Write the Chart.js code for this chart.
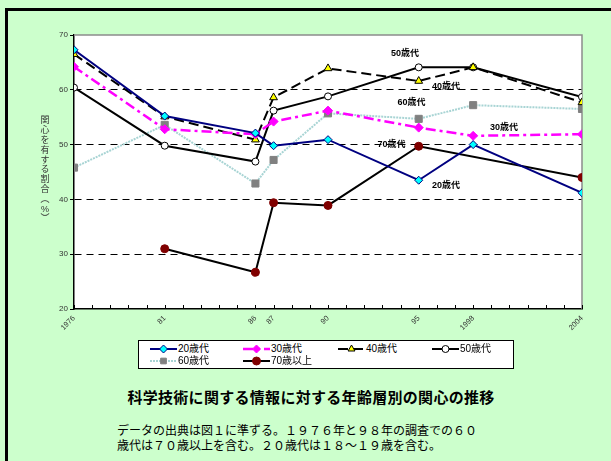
<!DOCTYPE html>
<html lang="ja">
<head>
<meta charset="utf-8">
<script src="https://cdn.jsdelivr.net/npm/chart.js@4.4.0/dist/chart.umd.min.js"></script>
<style>
  html, body { margin: 0; padding: 0; }
  body {
    width: 611px; height: 461px; overflow: hidden; position: relative;
    background: #ccffcc;
    font-family: "Liberation Sans", Arial, "Noto Sans CJK JP", sans-serif;
  }
  #frame {
    position: absolute; left: 5px; top: 8px; width: 700px; height: 600px;
    border-left: 3px solid #000; border-top: 3px solid #000;
  }
  #chart { position: absolute; left: 0; top: 0; }
  #legend {
    position: absolute; left: 138px; top: 340px; width: 374px; height: 27px;
    background: #fff; border: 1px solid #000;
  }
  .item {
    position: absolute; height: 12px; font-size: 10px; line-height: 12px;
    white-space: nowrap; display: flex; align-items: center; color: #000;
  }
  .item canvas { margin-right: 1px; }
  #title {
    position: absolute; left: 0; width: 622px; top: 386px; text-align: center;
    font-size: 15px; font-weight: bold; letter-spacing: 0.3px; color: #000;
  }
  #note {
    position: absolute; left: 117px; top: 424px; font-size: 12px; line-height: 14.5px; color: #000;
  }
</style>
</head>
<body>
<div id="frame"></div>
<canvas id="chart" width="611" height="340"></canvas>
<div id="legend"></div>
<div id="title">科学技術に関する情報に対する年齢層別の関心の推移</div>
<div id="note">データの出典は図１に準ずる。１９７６年と９８年の調査での６０<br>歳代は７０歳以上を含む。２０歳代は１８～１９歳を含む。</div>

<script>
// 調査年と目盛ラベル
const years = [1976, 1981, 1986, 1987, 1990, 1995, 1998, 2004];
const tickLabels = ['1976', '81', '86', '87', '90', '95', '1998', '2004'];

// 年齢層別の関心を有する割合（%）
const age20 = [67.3, 55.2, 52.1, 49.8, 50.9, 43.5, 50.0, 41.2];
const age30 = [64.2, 52.8, 51.9, 54.2, 56.2, 53.1, 51.6, 51.9];
const age40 = [66.5, 55.1, 50.9, 58.6, 63.9, 61.6, 64.1, 57.7];
const age50 = [60.4, 49.8, 46.9, 56.2, 58.8, 64.1, 64.1, 58.7];
const age60 = [45.8, 53.6, 42.9, 47.2, 55.7, 54.7, 57.2, 56.5];
const age70 = [null, 31.0, 26.7, 39.4, 38.9, 49.7, null, 44.0];

// グラフ内の注記（データ座標）
const noteNames = ['50歳代', '40歳代', '60歳代', '30歳代', '70歳代', '20歳代'];
const noteX = [1994.25, 1996.5, 1994.6, 1999.7, 1993.5, 1996.5];
const noteY = [66.6, 60.6, 57.7, 53.2, 50.0, 42.5];

const yTitle = ['関', '心', 'を', '有', 'す', 'る', '割', '合', '︵', '%', '︶'];

const FONT = '"Liberation Sans", Arial, "Noto Sans CJK JP", sans-serif';

const toPoints = (vals) => years.map((x, i) => ({ x: x, y: vals[i] }));

const datasets = [
    { label: '20歳代', data: toPoints(age20), borderColor: '#000080', borderWidth: 2,
      pointStyle: 'rectRot', pointRadius: 4, pointBackgroundColor: '#00ffff', pointBorderColor: '#000080', pointBorderWidth: 1 },
    { label: '30歳代', data: toPoints(age30), borderColor: '#ff00ff', borderWidth: 2.5, borderDash: [10, 4, 3, 4],
      pointStyle: 'rectRot', pointRadius: 4.5, pointBackgroundColor: '#ff00ff', pointBorderColor: '#ff00ff', pointBorderWidth: 1 },
    { label: '40歳代', data: toPoints(age40), borderColor: '#000000', borderWidth: 2, borderDash: [10, 5],
      pointStyle: 'triangle', pointRadius: 4.5, pointBackgroundColor: '#ffff00', pointBorderColor: '#000000', pointBorderWidth: 1 },
    { label: '50歳代', data: toPoints(age50), borderColor: '#000000', borderWidth: 2,
      pointStyle: 'circle', pointRadius: 3.5, pointBackgroundColor: '#ffffff', pointBorderColor: '#000000', pointBorderWidth: 1 },
    { label: '60歳代', data: toPoints(age60), borderColor: '#a8d4d4', borderWidth: 2, borderDash: [2, 1],
      pointStyle: 'rect', pointRadius: 5, pointBackgroundColor: '#808080', pointBorderColor: '#808080', pointBorderWidth: 1 },
    { label: '70歳以上', data: toPoints(age70), borderColor: '#000000', borderWidth: 2, spanGaps: true,
      pointStyle: 'circle', pointRadius: 4, pointBackgroundColor: '#800000', pointBorderColor: '#800000', pointBorderWidth: 1 }
];
datasets.forEach(d => { d.fill = false; d.tension = 0; d.pointHoverRadius = d.pointRadius; });

// 白い作図域と灰色の上・右枠、内向きの目盛
const plotFrame = {
    id: 'plotFrame',
    beforeDraw(chart) {
        const { ctx, chartArea: a } = chart;
        ctx.save();
        ctx.fillStyle = '#ffffff';
        ctx.fillRect(a.left, a.top, a.right - a.left, a.bottom - a.top);
        ctx.restore();
    },
    beforeDatasetsDraw(chart) {
        const { ctx, chartArea: a } = chart;
        const xs = chart.scales.x;
        ctx.save();
        ctx.strokeStyle = '#8c8c8c';
        ctx.lineWidth = 1.5;
        ctx.beginPath();
        ctx.moveTo(a.left, a.top);
        ctx.lineTo(a.right, a.top);
        ctx.lineTo(a.right, a.bottom);
        ctx.stroke();
        ctx.strokeStyle = '#000';
        ctx.lineWidth = 1;
        xs.ticks.forEach(t => {
            const px = Math.round(xs.getPixelForValue(t.value)) + 0.5;
            ctx.beginPath();
            ctx.moveTo(px, a.bottom);
            ctx.lineTo(px, a.bottom - 4);
            ctx.stroke();
        });
        ctx.restore();
    }
};

// 系列名の注記と縦書きの軸タイトル
const textNotes = {
    id: 'textNotes',
    afterDatasetsDraw(chart) {
        const { ctx, scales: { x, y } } = chart;
        ctx.save();
        ctx.font = 'bold 9px ' + FONT;
        ctx.fillStyle = '#000';
        ctx.textAlign = 'center';
        ctx.textBaseline = 'middle';
        noteNames.forEach((n, i) => {
            ctx.fillText(n, x.getPixelForValue(noteX[i]), y.getPixelForValue(noteY[i]));
        });
        ctx.restore();
    },
    afterDraw(chart) {
        const { ctx } = chart;
        ctx.save();
        ctx.font = '9px ' + FONT;
        ctx.fillStyle = '#333';
        ctx.textAlign = 'center';
        ctx.textBaseline = 'middle';
        yTitle.forEach((c, i) => ctx.fillText(c, 45, 121 + i * 9.8));
        ctx.restore();
    }
};

const chart = new Chart(document.getElementById('chart'), {
    type: 'line',
    data: { datasets: datasets },
    options: {
        responsive: false,
        animation: false,
        devicePixelRatio: 1,
        layout: { padding: { top: 35, right: 29, left: 0, bottom: 0 } },
        plugins: { legend: { display: false }, tooltip: { enabled: false } },
        scales: {
            x: {
                type: 'linear',
                min: 1976,
                max: 2004,
                afterFit: (s) => { s.height = 31; },
                grid: { display: false, drawTicks: false },
                border: { color: '#000', width: 1.5 },
                ticks: {
                    stepSize: 1,
                    autoSkip: false,
                    minRotation: 45,
                    maxRotation: 45,
                    padding: 5,
                    color: '#333',
                    font: { size: 7.5, family: FONT },
                    callback: (v) => {
                        const i = years.indexOf(v);
                        return i >= 0 ? tickLabels[i] : '';
                    }
                }
            },
            y: {
                min: 20,
                max: 70,
                afterFit: (s) => { s.width = 74; },
                grid: {
                    color: (c) => (c.tick && (c.tick.value === 20 || c.tick.value === 70)) ? 'rgba(0,0,0,0)' : '#000',
                    lineWidth: 1,
                    drawTicks: true,
                    tickLength: 4,
                    tickColor: '#000',
                    tickBorderDash: []
                },
                border: { color: '#000', width: 1.5, dash: [7, 5] },
                ticks: {
                    stepSize: 10,
                    padding: 2,
                    color: '#333',
                    font: { size: 8, family: FONT }
                }
            }
        }
    },
    plugins: [plotFrame, textNotes]
});

// 凡例（HTML）
const legendPos = [[11, 2], [104, 2], [199, 2], [293, 2], [11, 14], [104, 14]];
const legend = document.getElementById('legend');
datasets.forEach((d, i) => {
    const item = document.createElement('div');
    item.className = 'item';
    item.style.left = legendPos[i][0] + 'px';
    item.style.top = legendPos[i][1] + 'px';
    const c = document.createElement('canvas');
    c.width = 27; c.height = 10;
    const g = c.getContext('2d');
    g.strokeStyle = d.borderColor;
    g.lineWidth = d.borderWidth;
    g.setLineDash(d.borderDash || []);
    g.beginPath();
    g.moveTo(0, 5);
    g.lineTo(27, 5);
    g.stroke();
    g.setLineDash([]);
    g.fillStyle = d.pointBackgroundColor;
    g.strokeStyle = d.pointBorderColor;
    g.lineWidth = 1;
    const opts = { pointStyle: d.pointStyle, radius: Math.min(d.pointRadius, 4), borderWidth: 1, rotation: 0 };
    if (Chart.helpers && Chart.helpers.drawPoint) {
        Chart.helpers.drawPoint(g, opts, 13.5, 5);
    } else {
        g.beginPath(); g.arc(13.5, 5, 3.5, 0, Math.PI * 2); g.fill(); g.stroke();
    }
    const span = document.createElement('span');
    span.textContent = d.label;
    item.appendChild(c);
    item.appendChild(span);
    legend.appendChild(item);
});
</script>
</body>
</html>
